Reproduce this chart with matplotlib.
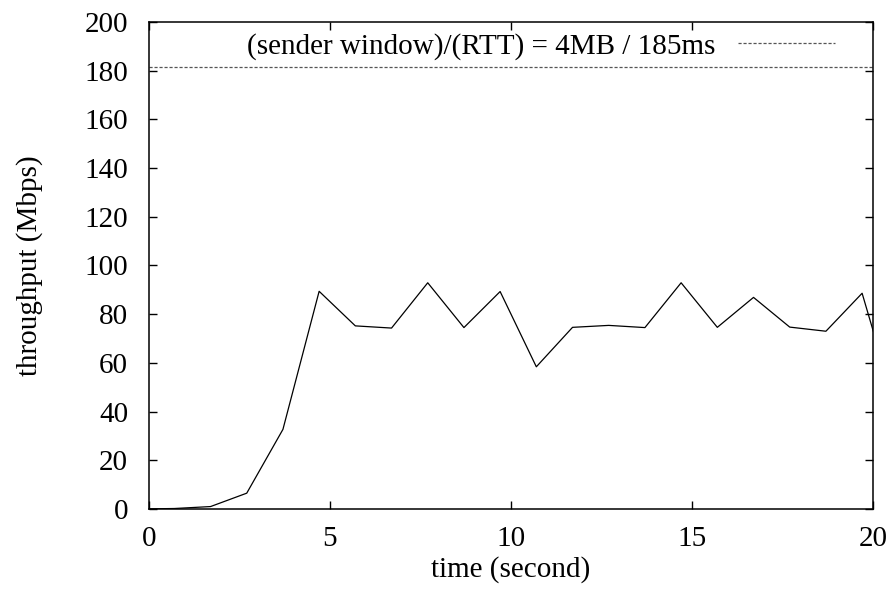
import matplotlib
matplotlib.use("Agg")
import matplotlib.pyplot as plt

# throughput samples (Mbps) at 1 s intervals
time_s = [-0.3, 0.7, 1.7, 2.7, 3.7, 4.7, 5.7, 6.7, 7.7, 8.7, 9.7, 10.7, 11.7,
          12.7, 13.7, 14.7, 15.7, 16.7, 17.7, 18.7, 19.7, 20.7]
throughput = [0.0, 0.2, 1.0, 6.5, 32.7, 89.4, 75.2, 74.3, 92.9, 74.5, 89.3, 58.4,
              74.6, 75.4, 74.5, 92.9, 74.6, 86.9, 74.7, 73.0, 88.6, 38.0]

# sender window / RTT limit
window_bytes = 4 * 1024 * 1024
rtt_s = 0.185
limit = window_bytes * 8 / rtt_s / 1e6

xticks = [0, 5, 10, 15, 20]
yticks = [0, 20, 40, 60, 80, 100, 120, 140, 160, 180, 200]

plt.rcParams['font.family'] = ['Liberation Serif', 'DejaVu Serif']
fs = 21

fig = plt.figure(figsize=(8.96, 5.94), dpi=100)
ax = fig.add_axes([0.1663, 0.1431, 0.808, 0.8199])

ax.plot(time_s, throughput, color='black', lw=0.9)
ax.axhline(limit, color='#555555', lw=0.9, ls=(0, (2.5, 1.5)),
           label='(sender window)/(RTT) = 4MB / 185ms')

ax.set_xlim(0, 20)
ax.set_ylim(0, 200)
ax.set_xticks(xticks)
ax.set_yticks(yticks)
ax.tick_params(direction='in', length=6, width=1, top=True, right=True,
               labelsize=fs)
ax.tick_params(axis='x', pad=12)
ax.tick_params(axis='y', pad=15)
for s in ax.spines.values():
    s.set_linewidth(1.1)

ax.set_xlabel('time (second)', fontsize=fs, labelpad=3)
ax.set_ylabel('throughput (Mbps)', fontsize=fs, labelpad=30)

ax.legend(loc='upper right', frameon=False, markerfirst=False,
          handlelength=3.3, handletextpad=0.8, fontsize=fs,
          borderaxespad=0.0, borderpad=0.2,
          bbox_to_anchor=(0.955, 0.99))

fig.savefig('out.png', dpi=100)
